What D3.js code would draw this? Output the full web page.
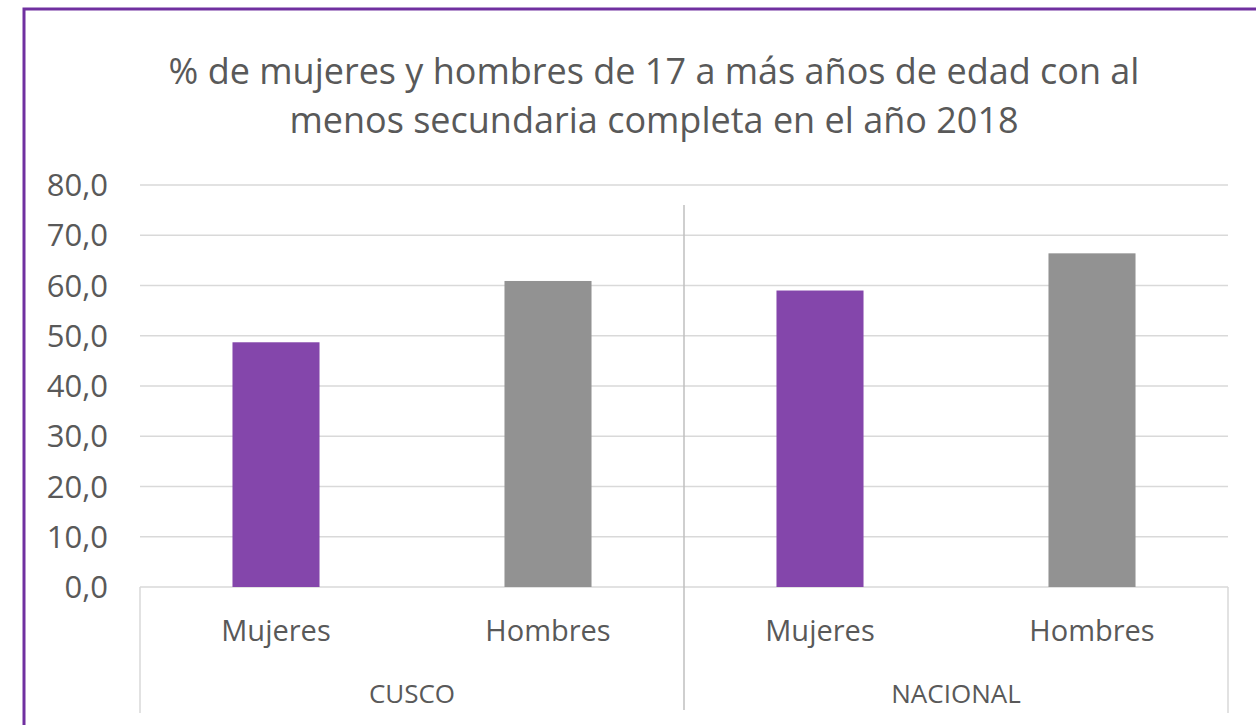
<!DOCTYPE html>
<html>
<head>
<meta charset="utf-8">
<script src="https://cdn.jsdelivr.net/npm/d3@7.9.0/dist/d3.min.js"></script>
<style>
  body { margin: 0; background: #fff; }
  text { font-family: "Open Sans", sans-serif; fill: #595959; }
</style>
</head>
<body>
<svg id="chart" width="1256" height="725"></svg>
<script>
// --- Data ---
const groups = ["CUSCO", "NACIONAL"];
const sexes = ["Mujeres", "Hombres"];
const values = [
  [48.7, 60.9],   // CUSCO
  [59.0, 66.4]    // NACIONAL
];
const yTicks = [0, 10, 20, 30, 40, 50, 60, 70, 80];
const titleLines = [
  "% de mujeres y hombres de 17 a más años de edad con al",
  "menos secundaria completa en el año 2018"
];

const colors = { Mujeres: "#8446ab", Hombres: "#929292" };

// flatten for band scale
const rows = [];
groups.forEach((g, gi) => sexes.forEach((s, si) => {
  rows.push({ key: g + "|" + s, group: g, sex: s, value: values[gi][si] });
}));

const svg = d3.select("#chart");
const plotLeft = 140, plotRight = 1228, plotTop = 185, plotBottom = 587;

const x = d3.scaleBand()
  .domain(rows.map(d => d.key))
  .range([plotLeft, plotRight])
  .padding(0);

const xGroup = d3.scaleBand()
  .domain(groups)
  .range([plotLeft, plotRight])
  .padding(0);

const y = d3.scaleLinear()
  .domain([0, 80])
  .range([plotBottom, plotTop]);

// Outer purple border
svg.append("rect")
  .attr("x", 24).attr("y", 9)
  .attr("width", 1300).attr("height", 800)
  .attr("fill", "none")
  .attr("stroke", "#7030a0")
  .attr("stroke-width", 3);

// Title
svg.append("g").selectAll("text")
  .data(titleLines)
  .join("text")
  .attr("x", 654)
  .attr("y", (d, i) => 84 + i * 49)
  .attr("text-anchor", "middle")
  .style("font-size", "36px")
  .text(d => d);

// Gridlines
svg.append("g").selectAll("line")
  .data(yTicks)
  .join("line")
  .attr("x1", plotLeft).attr("x2", plotRight)
  .attr("y1", d => y(d)).attr("y2", d => y(d))
  .attr("stroke", "#d9d9d9")
  .attr("stroke-width", 1.5);

// Y tick labels
const fmt = d => d3.format(".1f")(d).replace(".", ",");
svg.append("g").selectAll("text")
  .data(yTicks)
  .join("text")
  .attr("x", 108)
  .attr("y", d => y(d))
  .attr("dy", "0.36em")
  .attr("text-anchor", "end")
  .style("font-size", "31px")
  .text(fmt);

// Bars
const barW = x.bandwidth() * 0.32;
svg.append("g").selectAll("rect")
  .data(rows)
  .join("rect")
  .attr("x", d => x(d.key) + (x.bandwidth() - barW) / 2)
  .attr("y", d => y(d.value))
  .attr("width", barW)
  .attr("height", d => y(0) - y(d.value))
  .attr("fill", d => colors[d.sex]);

// Category axis: outer lines and group separator
const axisBottom = 713;
svg.append("line")
  .attr("x1", plotLeft).attr("x2", plotLeft)
  .attr("y1", plotBottom).attr("y2", axisBottom)
  .attr("stroke", "#d9d9d9").attr("stroke-width", 1.5);
svg.append("line")
  .attr("x1", plotRight).attr("x2", plotRight)
  .attr("y1", plotBottom).attr("y2", axisBottom)
  .attr("stroke", "#d9d9d9").attr("stroke-width", 1.5);
svg.append("line")
  .attr("x1", xGroup("NACIONAL")).attr("x2", xGroup("NACIONAL"))
  .attr("y1", 205).attr("y2", 710)
  .attr("stroke", "#bfbfbf").attr("stroke-width", 1.5);

// Sex labels
svg.append("g").selectAll("text")
  .data(rows)
  .join("text")
  .attr("x", d => x(d.key) + x.bandwidth() / 2)
  .attr("y", 641)
  .attr("text-anchor", "middle")
  .style("font-size", "29px")
  .text(d => d.sex);

// Group labels
svg.append("g").selectAll("text")
  .data(groups)
  .join("text")
  .attr("x", d => xGroup(d) + xGroup.bandwidth() / 2)
  .attr("y", 703)
  .attr("text-anchor", "middle")
  .style("font-size", "26px")
  .text(d => d);
</script>
</body>
</html>
